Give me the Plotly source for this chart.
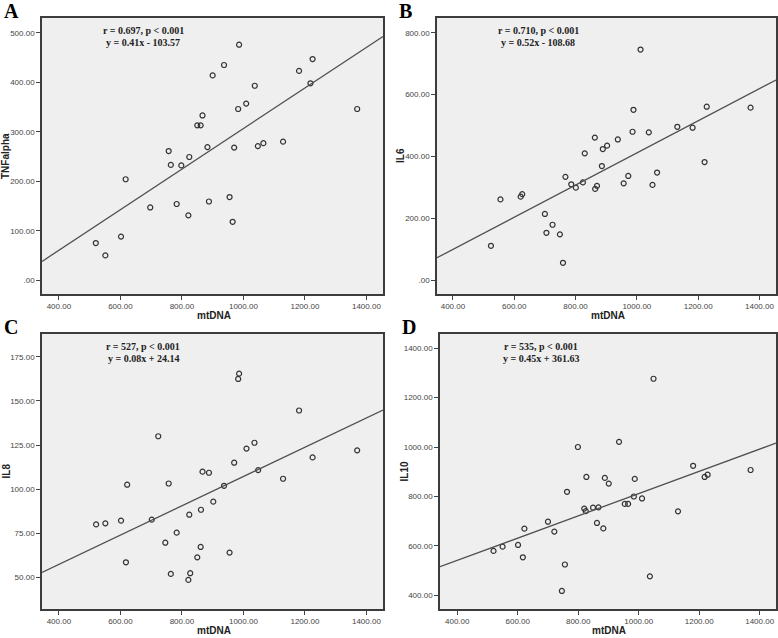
import plotly.graph_objects as go

# ---------------- data ----------------
A_mtdna = [986, 937, 900, 1225, 1181, 1218, 1037, 1009, 983, 1370, 867, 850, 861, 883, 970, 1047,
           1065, 1129, 757, 824, 764, 798, 617, 697, 783, 821, 888, 955, 965, 602, 520, 551]
A_tnf = [476, 435, 414, 447, 423, 398, 393, 357, 346, 346, 333, 313, 313, 269, 268, 271,
         277, 280, 261, 249, 233, 232, 204, 147, 154, 131, 159, 168, 118, 88, 75, 50]

B_mtdna = [1012, 989, 1228, 1371, 1132, 1182, 986, 1039, 863, 938, 889, 903, 830, 1221, 886, 767,
           972, 1066, 786, 801, 824, 864, 870, 957, 1051, 555, 621, 626, 700, 725, 705, 749, 524, 759]
B_il6 = [746, 551, 561, 558, 496, 493, 480, 478, 461, 455, 424, 435, 410, 382, 369, 334,
         337, 348, 310, 299, 316, 295, 305, 313, 308, 261, 270, 278, 214, 179, 153, 148, 111, 56]

C_mtdna = [986, 983, 1181, 723, 1036, 1010, 1370, 1225, 970, 867, 888, 1048, 1129, 622, 757, 937,
           902, 862, 824, 702, 521, 551, 602, 783, 746, 861, 955, 850, 618, 764, 827, 821]
C_il8 = [165.5, 162.5, 144.6, 130.0, 126.3, 123.0, 122.0, 118.0, 115.0, 109.9, 109.3, 110.8, 105.9,
         102.5, 103.2, 101.9, 92.9, 88.3, 85.5, 82.7, 80.0, 80.6, 82.1, 75.3, 69.6, 67.2, 64.0, 61.3,
         58.5, 51.9, 52.3, 48.5]

D_mtdna = [1049, 799, 935, 1180, 1370, 1218, 1228, 827, 888, 987, 901, 763, 984, 1011, 954, 965,
           820, 825, 849, 867, 1130, 700, 862, 721, 622, 883, 601, 550, 520, 617, 756, 1037, 746]
D_il10 = [1276, 1000, 1021, 924, 907, 879, 888, 879, 875, 871, 852, 819, 800, 792, 770, 770,
          751, 741, 755, 756, 740, 698, 693, 658, 670, 671, 604, 597, 580, 554, 525, 477, 418]

panel_letters = ["A", "B", "C", "D"]
y_titles = ["TNFalpha", "IL6", "IL8", "IL10"]
x_title = "mtDNA"
stat_lines = [("r = 0.697, p < 0.001", "y = 0.41x - 103.57"),
              ("r = 0.710, p < 0.001", "y = 0.52x - 108.68"),
              ("r = 527, p < 0.001", "y = 0.08x + 24.14"),
              ("r = 535, p < 0.001", "y = 0.45x + 361.63")]
slopes = [0.41, 0.52, 0.083, 0.45]
intercepts = [-103.57, -108.68, 24.14, 361.63]

x_ticks = [400, 600, 800, 1000, 1200, 1400]
y_ticks = [[0, 100, 200, 300, 400, 500],
           [0, 200, 400, 600, 800],
           [50, 75, 100, 125, 150, 175],
           [400, 600, 800, 1000, 1200, 1400]]

# ---------------- layout geometry ----------------
W, H = 778, 638
x_ranges = [[345, 1454], [348, 1454], [345, 1454], [343, 1454]]
y_ranges = [[-28, 530], [-45, 848], [32, 188], [345, 1457]]
# pixel boxes: (left, right, top, bottom)
boxes = [(42, 383, 18, 294), (437, 776, 18, 294), (42, 383, 334, 609), (440, 776, 334, 609)]

xs = [A_mtdna, B_mtdna, C_mtdna, D_mtdna]
ys = [A_tnf, B_il6, C_il8, D_il10]


def fmt(v):
    s = f"{v:.2f}"
    return s[1:] if s.startswith("0.") else s


fig = go.Figure()
frame_col = "#3c3c3c"
annotations = []

for i in range(4):
    sfx = "" if i == 0 else str(i + 1)
    xa, ya = "x" + sfx, "y" + sfx
    l, r, t, b = boxes[i]
    fig.add_trace(go.Scatter(
        x=xs[i], y=ys[i], mode="markers", xaxis=xa, yaxis=ya, showlegend=False,
        marker=dict(symbol="circle-open", size=5, color="#333333", line=dict(width=1.2, color="#333333"))))
    x0, x1 = x_ranges[i]
    fig.add_trace(go.Scatter(
        x=[x0, x1], y=[slopes[i] * x0 + intercepts[i], slopes[i] * x1 + intercepts[i]],
        mode="lines", xaxis=xa, yaxis=ya, showlegend=False,
        line=dict(color="#505050", width=1.3)))

    common = dict(showline=True, mirror=True, linecolor=frame_col, linewidth=1.5,
                  showgrid=False, zeroline=False, ticks="outside", ticklen=4, tickwidth=1,
                  tickcolor="#444", tickfont=dict(family="Liberation Sans, Arial", size=8, color="#444"))
    fig.layout["xaxis" + sfx] = dict(
        domain=[l / W, r / W], range=x_ranges[i], anchor=ya,
        tickvals=x_ticks, ticktext=[fmt(v) for v in x_ticks], **common)
    fig.layout["yaxis" + sfx] = dict(
        domain=[1 - b / H, 1 - t / H], range=y_ranges[i], anchor=xa,
        tickvals=y_ticks[i], ticktext=[fmt(v) for v in y_ticks[i]], **common)

    # panel letter
    annotations.append(dict(text="<b>" + panel_letters[i] + "</b>", xref="paper", yref="paper",
                            x=(l - 40) / W, y=1 - (t - 7) / H, xanchor="left", yanchor="middle",
                            showarrow=False, font=dict(family="Liberation Serif, Times New Roman", size=20, color="#000")))
    # stats text
    cx = l + 101
    for j, line in enumerate(stat_lines[i]):
        annotations.append(dict(text="<b>" + line + "</b>", xref="paper", yref="paper",
                                x=cx / W, y=1 - (t + 12 + 12 * j) / H, xanchor="center", yanchor="middle",
                                showarrow=False, font=dict(family="Liberation Serif, Times New Roman", size=10, color="#222")))
    # y title
    annotations.append(dict(text="<b>" + y_titles[i] + "</b>", xref="paper", yref="paper",
                            x=(l - 36) / W, y=1 - ((t + b) / 2) / H, xanchor="center", yanchor="middle",
                            textangle=-90, showarrow=False,
                            font=dict(family="Liberation Sans, Arial", size=10, color="#222")))
    # x title
    annotations.append(dict(text="<b>" + x_title + "</b>", xref="paper", yref="paper",
                            x=((l + r) / 2 + 1) / W, y=1 - (b + 21) / H, xanchor="center", yanchor="middle",
                            showarrow=False, font=dict(family="Liberation Sans, Arial", size=10, color="#222")))

fig.update_layout(
    width=W, height=H, margin=dict(l=0, r=0, t=0, b=0),
    paper_bgcolor="white", plot_bgcolor="#efefef",
    annotations=annotations,
)

fig.write_html("out.html", config={"displayModeBar": False},
               post_script="document.body.style.margin='0px';document.body.style.overflow='hidden';")
